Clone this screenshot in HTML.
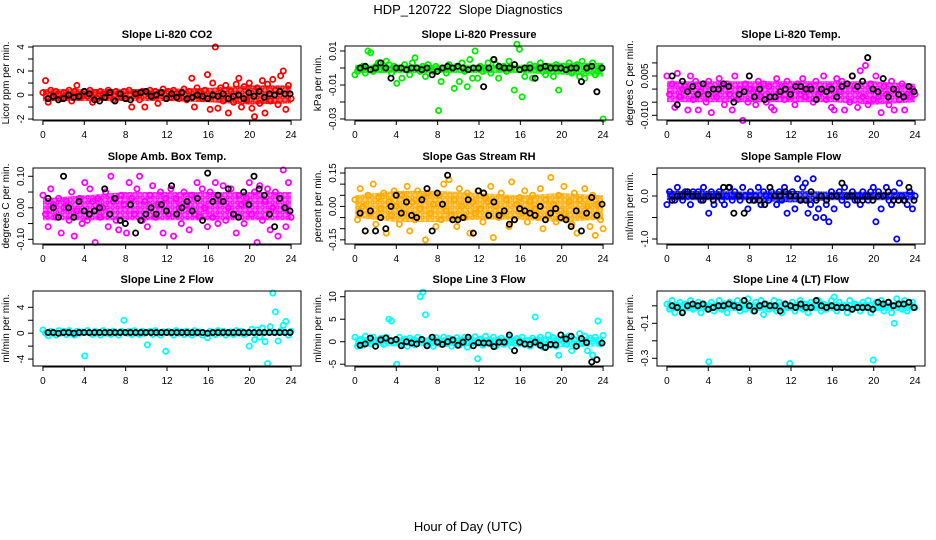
<!DOCTYPE html>
<html><head><meta charset="utf-8"><style>
html,body{margin:0;padding:0;background:#fff;}
svg{display:block;font-family:"Liberation Sans",sans-serif;}
</style></head><body>
<svg id="chart" width="936" height="540" viewBox="0 0 936 540" xmlns="http://www.w3.org/2000/svg">
<defs id="defs"></defs>
<text x="468" y="14" font-size="13" text-anchor="middle">HDP_120722&#160; Slope Diagnostics</text>
<text x="468" y="531" font-size="13" text-anchor="middle">Hour of Day (UTC)</text>
</svg>
<script>
const xTicks = [0,4,8,12,16,20,24];
const co2Color = [0.2,1.2,-0.6,0.4,-0.2,0.3,0.1,-0.3,0.2,-0.1,0.4,-0.5,0.3,0.8,-0.2,0.1, 0.3,-0.1,0.4,-0.6,0.2,-0.3,0.3,0.1,-0.2,0.4,0.2,-0.4,0.3,0.1,-0.2,0.3, -0.3,0.4,-1,0.2,0.1,-0.4,0.3,-1,0.2,0.4,-0.2,0.3,-0.7,0.2,0.5,-0.3, 0.3,-0.2,0.4,0.1,-0.3,0.2,0.5,-0.4,0.3,1.4,-1,0.6,0.2,-0.3,0.4,1.7, -1.2,1,4,-1.1,0.6,-0.5,0.8,-1.5,0.3,-0.6,0.9,1.4,-1,0.7,-0.4,1, -1.1,-1.8,0.6,-0.7,1.2,-1.5,0.9,-0.5,1.3,0.4,-0.8,1.6,2,-1.2,0.8,-0.3];
const co2Black = [-0.3,-0.1,-0.4,-0.3,0.0,-0.2,-0.1,0.3,0.1,-0.4,-0.5,-0.2,0.2,-0.5,0.1,-0.3,-0.4,0.1,0.2,0.3,-0.1,0.0,0.2,-0.3,0.1,-0.2,0.2,-0.3,-0.2,0.0,-0.1,-0.3,0.0,-0.1,0.1,-0.3,-0.1,0.0,-0.3,0.2,-0.1,0.3,-0.2,0.1,0.0,0.3,0.1,0.1];
const co2BandLo = [-0.5,-0.5,-0.5,-0.5,-0.6,-0.8,-0.7];
const co2BandHi = [0.5,0.5,0.5,0.5,0.6,0.8,0.8];
const presColor = [-4,-2,0,1,-3,10,9,-2,1,3,-1,0,4,2,-3,1, -9,0,-6,2,-1,-4,3,6,0,-2,1,-5,2,0,-2,1, -25,-8,0,-3,2,0,-12,1,-8,3,-2,-11,5,-6,10,-6, 1,-2,0,3,-3,5,2,-6,0,1,-2,4,0,-13,14,11, -17,-5,0,2,-6,1,0,3,-2,-4,1,0,-5,2,-13,0, 1,-1,3,-3,0,2,-5,4,-6,0,1,3,-4,-2,0,-30];
const presBlack = [0,1,-1,0,3,0,-6,0,0,-1,0,0,-1,0,-4,-2,0,1,0,1,0,-1,0,0,-11,0,5,1,0,0,2,-1,0,0,-6,0,1,0,0,0,-1,0,0,-8,0,1,-14,0];
const presBandLo = [-3,-3,-3,-3,-3,-4,-5];
const presBandHi = [2,2,2,2,2,3,3];
const tempColor = [5,-2,2,-7,6,-3,0,1,-8,5,-4,3,-8,-1,2,-5, 3,-9,0,-3,4,1,-6,2,-2,-8,5,-4,0,-12,2,-5, 0,-1,-6,3,-3,2,-5,1,-7,-8,4,-2,1,-4,3,-3, 0,-6,2,-2,4,-3,0,1,-5,3,-2,-1,5,-4,1,-7, -8,4,-1,3,-8,2,-5,5,0,-7,7,-3,9,-6,2,-4, 5,-3,-9,1,-2,-6,3,-8,0,-4,2,-8,-2,-3,0,-2];
const tempBlack = [5,-6,3,-1,1,-2,2,-2,0,0,2,1,-5,-2,-1,5,-3,0,-4,-3,-3,-1,0,-2,1,1,0,0,-4,0,-1,0,-3,1,2,5,1,3,12,0,-1,4,-3,0,-2,-3,1,-1];
const tempBandLo = [-5,-5,-5,-5,-5,-6,-5];
const tempBandHi = [3,3,3,3,3,3,2];
const ambColor = [4,-2,-6,6,1,-3,3,-8,0,2,-4,5,-9,-1,3,-5, 8,-4,6,2,-11,3,-3,0,5,-6,10,2,-4,-7,4,1, -8,8,3,-2,6,10,-4,2,-6,4,7,-3,1,5,-8,3, -2,6,-9,3,0,-5,5,1,-7,4,-2,8,-3,6,0,-6, 5,-3,8,-5,2,7,-4,0,6,-2,-8,4,1,-5,3,8, -2,5,-11,7,-4,2,6,-7,0,5,-9,3,12,-6,8,-3];
const ambBlack = [3,0,-3,10,0,-3,2,-1,-2,-1,0,6,-2,3,-4,-5,1,-8,-4,-2,0,-2,1,-1,7,-2,0,2,-1,3,-4,11,2,4,2,6,-2,-3,5,1,10,6,4,-2,-6,3,0,-1];
const ambBandLo = [-4,-4,-4,-4,-4,-4,-4];
const ambBandHi = [3,4,5,5,5,5,5];
const rhColor = [3,-6,8,0,-11,5,-3,10,-8,4,-1,6,-12,2,-4,7, 0,-8,5,-3,9,-11,2,-6,7,-1,4,-15,6,-3,1,-9, 5,-6,10,-2,12,-4,3,-9,8,0,-5,6,-12,2,-3,7, -1,-7,4,2,9,-14,0,-5,6,-3,3,-9,11,-6,1,4, -3,7,-7,2,5,-1,-5,8,-10,3,-4,13,1,-7,5,-2, 9,-5,2,-8,6,-12,3,-4,8,0,-9,5,-13,1,-6,-10];
const rhBlack = [-3,-11,-2,-11,-5,-10,0,5,-3,2,-4,-5,3,8,-11,6,1,14,-6,-6,-5,3,-12,7,6,-4,2,-4,-2,-8,-6,-1,-2,-3,-4,0,-6,-3,-1,-5,-6,-9,-2,-11,-3,4,-4,1];
const rhBandLo = [-5,-7,-7,-6,-6,-7,-6];
const rhBandHi = [5,7,7,6,5,6,5];
const sampColor = [-2,1,0,-1,2,0,-1,1,0,-2,1,0,1,-1,2,0, -4,1,-2,0,1,-1,-2,0,2,-1,1,0,-1,2,0,-3, 1,-1,0,2,-2,1,0,-1,1,0,-2,1,-1,2,-4,0, 1,-3,4,-1,2,3,-4,-2,4,-5,-3,0,-5,-2,-6,1, -3,0,1,-1,2,-2,0,1,-1,0,-2,1,0,-1,1,2, -6,1,-3,0,2,-1,-2,1,-10,3,0,-1,-2,1,-3,0];
const sampBlack = [-1,0,0,1,0,0,-1,0,-1,0,2,2,-4,0,-4,-1,-1,-1,-2,2,0,0,1,0,0,-1,-1,1,-1,0,-1,0,0,3,0,0,-1,-1,0,-1,0,0,1,-1,-1,-1,2,-1];
const sampBandLo = [-1,-1,-1,-1.5,-1,-1,-1];
const sampBandHi = [1.2,1.2,1,1.2,1,1,1];
const l2Color = [0.5,0,-0.4,0.3,0,-0.3,0.4,0,0.3,-0.2,0.4,0,-0.3,0.3,0,0.2, -3.5,0.4,0,-0.2,0.3,0,-0.3,0.4,0,0.2,-0.2,0.3,0,-0.3,0.3,2, 0,0.3,-0.2,0.4,0,-0.2,0.3,0,-1.8,0.3,-0.2,0.4,0,-0.3,0.2,-2.8, 0.3,0,-0.3,0.4,0,0.2,-0.2,0.3,0,-0.3,0.4,0,0.2,-0.3,0,-0.7, 0.3,0,-0.2,0.4,0,0.3,-0.3,0,0.2,-0.2,0.4,0,0.3,-0.2,0,-2, 0.6,-1,0.5,-0.6,0.8,-1.3,-4.7,1,6.2,3.3,-1.2,0.4,1.2,1.8,-0.3,0.3];
const l2Black = [0.1,0.1,0,0.1,0.1,0,0.1,0.1,0.1,0.1,0.1,0.1,0.1,0.1,0.1,0.1,0.1,0.1,0.1,0.1,0.1,0.1,0.1,0.1,0.1,0.1,0.1,0.1,0.1,0.1,0.1,0,0.1,0.1,0.1,0.1,0.1,0.1,0.1,0.1,0.1,0.1,0.1,0.1,0.1,0.1,0.1,0.1];
const l2BandLo = [-0.3,-0.3,-0.3,-0.3,-0.3,-0.3,-0.3];
const l2BandHi = [0.5,0.5,0.5,0.5,0.5,0.5,0.5];
const l3Color = [1,-1,0.5,-0.8,1.2,0,-0.5,1,-1,0.3,0.8,-0.6,1,5,4.6,-0.3, -5,1,-0.5,0.6,-1,0.8,0,-0.7,1,10,11,6,-0.8,0.5,-1,0.9, 0,-0.6,1,-0.4,0.7,-1,0.3,0.9,-0.8,0.2,1,-1.2,0.5,-0.3,1.1,-3.8, 0.6,-0.8,1.2,0,-0.5,1,-1,0.4,0.8,-0.6,0,1,-1.1,0.3,0.7,-0.4, 1,-0.7,0.2,-1,0.8,5.5,-0.3,1,-1.2,0.4,1.5,-0.8,0.9,-1,-3,0.5, 1,-0.6,1.3,-2,0.5,-1,1.8,-0.4,1.2,-2,0.8,-3,1,4.6,-0.5,1.4];
const l3Black = [-0.8,-0.5,0.8,-1,0.4,0.8,0.2,0.5,-0.9,0,-0.3,-0.5,0.5,-0.9,1,-0.1,-0.6,0,0.4,-0.8,-0.1,1,-0.9,-0.2,-0.3,-0.3,-1.1,-0.1,-0.1,1.5,-2,-0.1,-0.5,-0.6,-0.1,-0.8,-1.3,-0.6,-0.7,1.5,0.6,1.2,-1,0.7,-0.2,-4.5,-4,-0.3];
const l3BandLo = [-1,-1,-1,-1,-1,-1.2,-1];
const l3BandHi = [1,1,1,1,1,1.2,1];
const l4Color = [1,-2,3,-4,0,2,-3,1,-1,3,-2,0,2,-4,1,-1, -32,2,-3,0,3,-2,1,-4,2,0,-1,3,-3,1,-2,4, 0,-3,2,-1,3,-5,1,-2,0,3,-3,2,-4,1,-1,-33, 2,-3,0,3,-2,1,-4,2,-1,0,3,-3,1,-2,0,3, 5,-3,2,-1,0,-4,3,-2,1,0,-3,2,-1,3,-4,-31, 2,-1,3,-3,0,2,-4,-10,4,1,-2,3,-3,0,2,-1];
const l4Black = [0,-1,-4,0,1,0,1,-2,-1,0,0,1,0,-1,3,0,-3,0,1,0,0,-3,1,0,-1,1,-1,-1,3,0,-1,0,-1,-1,-1,-2,-1,-1,-1,-2,2,1,2,0,1,1,2,-1];
const l4BandLo = [-3,-3,-3,-3,-3,-3,-3];
const l4BandHi = [2,2,2,2,2,2,2];

const panels = [
 {id:'co2',title:'Slope Li-820 CO2',ylab:'Licor ppm per min.',col:0,row:0,top:4.083,bot:-2.08,ticks:[-2,-1,0,1,2,3,4],labels:['-2','','0','','2','','4'],color:'#ff0000',cv:co2Color,bv:co2Black,lo:co2BandLo,hi:co2BandHi,scale:1},
 {id:'pressure',title:'Slope Li-820 Pressure',ylab:'kPa per min.',col:1,row:0,top:0.01294,bot:-0.0306,ticks:[-0.03,-0.02,-0.01,0,0.01],labels:['-0.03','','-0.01','','0.01'],color:'#00ee00',cv:presColor,bv:presBlack,lo:presBandLo,hi:presBandHi,scale:0.001},
 {id:'temp',title:'Slope Li-820 Temp.',ylab:'degrees C per min.',col:2,row:0,top:0.01645,bot:-0.0118,ticks:[-0.01,-0.005,0,0.005,0.01],labels:['-0.010','','','0.005',''],color:'#ff00ff',cv:tempColor,bv:tempBlack,lo:tempBandLo,hi:tempBandHi,scale:0.001},
 {id:'amb-temp',title:'Slope Amb. Box Temp.',ylab:'degrees C per min.',col:0,row:1,top:0.1263,bot:-0.1149,ticks:[-0.1,-0.05,0,0.05,0.1],labels:['-0.10','','0.00','','0.10'],color:'#ff00ff',cv:ambColor,bv:ambBlack,lo:ambBandLo,hi:ambBandHi,scale:0.01},
 {id:'rh',title:'Slope Gas Stream RH',ylab:'percent per min.',col:1,row:1,top:0.1724,bot:-0.1686,ticks:[-0.15,-0.1,-0.05,0,0.05,0.1,0.15],labels:['-0.15','','','0.00','','','0.15'],color:'#ffaa00',cv:rhColor,bv:rhBlack,lo:rhBandLo,hi:rhBandHi,scale:0.01},
 {id:'sample-flow',title:'Slope Sample Flow',ylab:'ml/min per min.',col:2,row:1,top:0.651,bot:-1.116,ticks:[-1,-0.5,0,0.5],labels:['-1.0','','0.0',''],color:'#0000ff',cv:sampColor,bv:sampBlack,lo:sampBandLo,hi:sampBandHi,scale:0.1},
 {id:'line2-flow',title:'Slope Line 2 Flow',ylab:'ml/min per min.',col:0,row:2,top:6.52,bot:-5.07,ticks:[-4,-2,0,2,4],labels:['-4','','0','','4'],color:'#00ffff',cv:l2Color,bv:l2Black,lo:l2BandLo,hi:l2BandHi,scale:1},
 {id:'line3-flow',title:'Slope Line 3 Flow',ylab:'ml/min per min.',col:1,row:2,top:11.27,bot:-5.4,ticks:[-5,0,5,10],labels:['-5','0','5','10'],color:'#00ffff',cv:l3Color,bv:l3Black,lo:l3BandLo,hi:l3BandHi,scale:1},
 {id:'line4-flow',title:'Slope Line 4 (LT) Flow',ylab:'ml/min per min.',col:2,row:2,top:0.0846,bot:-0.344,ticks:[-0.3,-0.2,-0.1,0],labels:['-0.3','','-0.1',''],color:'#00ffff',cv:l4Color,bv:l4Black,lo:l4BandLo,hi:l4BandHi,scale:0.01}
];
const NS='http://www.w3.org/2000/svg';
const svg=document.getElementById('chart');
const defs=document.getElementById('defs');
const colX=[33,345,657], rowY=[[46,120],[168,244],[291,366]];
const W=268;
function mk(tag,attrs,parent){const e=document.createElementNS(NS,tag);for(const k in attrs)e.setAttribute(k,attrs[k]);(parent||svg).appendChild(e);return e;}
panels.forEach(p=>{
  const x0=colX[p.col], y0=rowY[p.row][0], y1=rowY[p.row][1];
  const xs=h=>x0+(h+0.96)/25.92*W;
  const ys=v=>y0+(p.top-v)/(p.top-p.bot)*(y1-y0);
  const pat=mk('pattern',{id:'pat-'+p.id,width:5,height:5,patternUnits:'userSpaceOnUse'},defs);
  mk('rect',{width:5,height:5,fill:p.color,opacity:0.55},pat);
  mk('circle',{cx:2.5,cy:2.5,r:1.6,fill:'none',stroke:p.color,'stroke-width':1.3},pat);
  const g=mk('g',{});
  
  
  const t=mk('text',{x:x0+W/2,y:y0-8,'font-size':11,'font-weight':'bold','text-anchor':'middle'},g);
  t.textContent=p.title;
  
  
  const yl=mk('text',{x:x0-24,y:(y0+y1)/2,'font-size':10,'text-anchor':'middle',transform:`rotate(-90 ${x0-24} ${(y0+y1)/2})`},g);
  yl.textContent=p.ylab;
  
  
  const pts=mk('g',{},g);
  
  
  let d='';
  xTicks.forEach((h,i)=>{d+=(i?'L':'M')+xs(h)+','+ys(p.hi[i]*p.scale);});
  for(let i=xTicks.length-1;i>=0;i--){d+='L'+xs(xTicks[i])+','+ys(p.lo[i]*p.scale);}
  const band=mk('path',{d:d+'Z',fill:'url(#pat-'+p.id+')',stroke:'none'},pts);
  
  
  const n=p.cv.length;
  p.cv.forEach((v,i)=>{
    const c=mk('circle',{cx:xs(i*24/(n-1)),cy:ys(v*p.scale),r:2.6,fill:'none',stroke:p.color,'stroke-width':1.8},pts);
    
    
  });
  const m=p.bv.length;
  p.bv.forEach((v,i)=>{
    const c=mk('circle',{cx:xs(0.5+i*23.4/(m-1)),cy:ys(v*p.scale),r:2.6,fill:'none',stroke:'#000','stroke-width':1.8},pts);
    
    
  });
  const box=mk('rect',{x:x0,y:y0,width:W,height:y1-y0,fill:'none',stroke:'#000','stroke-width':1},g);
  
  
  const xa=mk('g',{},g);
  
  
  mk('line',{x1:xs(0),x2:xs(24),y1:y1+1,y2:y1+1,stroke:'#000'},xa);
  xTicks.forEach(h=>{
    mk('line',{x1:xs(h),x2:xs(h),y1:y1,y2:y1+5,stroke:'#000'},xa);
    const l=mk('text',{x:xs(h),y:y1+18,'font-size':10,'text-anchor':'middle'},xa);
    l.textContent=h;
    
    
  });
  const ya=mk('g',{},g);
  
  
  p.ticks.forEach((v,i)=>{
    const y=ys(v);
    mk('line',{x1:x0-5,x2:x0,y1:y,y2:y,stroke:'#000'},ya);
    if(p.labels[i]){
      const l=mk('text',{x:x0-9,y:y,'font-size':10,'text-anchor':'middle',transform:`rotate(-90 ${x0-9} ${y})`},ya);
      l.textContent=p.labels[i];
      
      
    }
  });
});
</script>
</body></html>
